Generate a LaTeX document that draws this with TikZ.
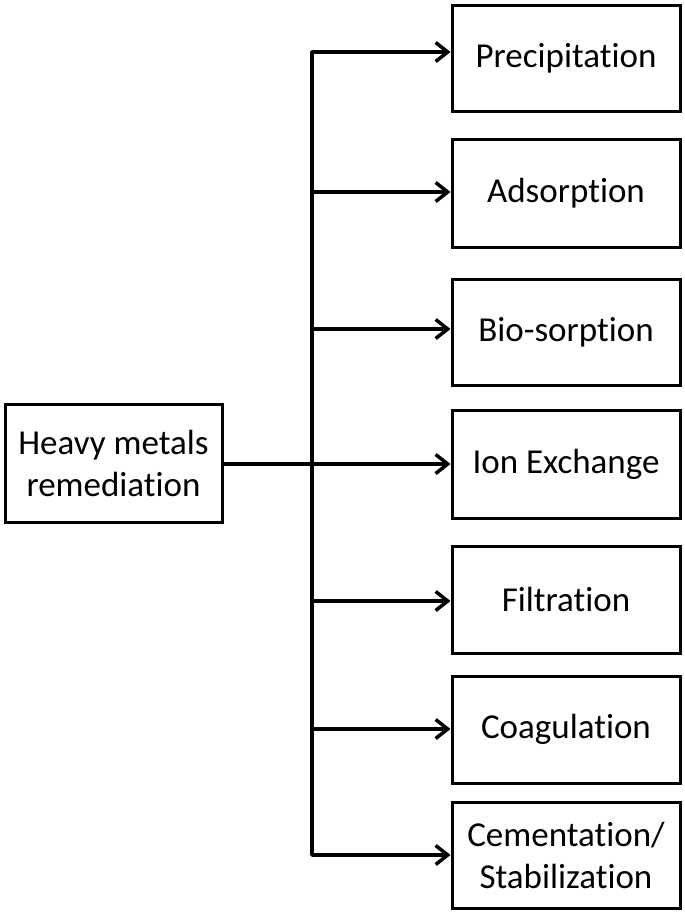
\documentclass[tikz,border=0pt]{standalone}
\usepackage{fontspec}
\setmainfont{Carlito}[RawFeature={-liga}]
\usetikzlibrary{arrows.meta}
\begin{document}
\begin{tikzpicture}[x=1pt,y=1pt,
  box/.style={draw, line width=3pt, rectangle, align=center, inner sep=0pt,
    font=\fontsize{35}{42}\selectfont},
  rbox/.style={box, minimum width=228pt},
  tip/.style={Straight Barb[length=12pt,width=19pt,line width=3.5pt]},
  conn/.style={line width=3.5pt, line join=round, -{Straight Barb[length=12pt,width=19pt,line width=3.5pt]}},
  conn2/.style={line width=3.5pt, line join=round, {Straight Barb[length=12pt,width=19pt,line width=3.5pt]}-{Straight Barb[length=12pt,width=19pt,line width=3.5pt]}}]
\useasboundingbox (0,0) rectangle (685,-913);
\node[box, minimum width=217pt, minimum height=118pt] (hm) at (113.5,-463) {Heavy metals\\remediation};
\node[rbox, minimum height=106pt] (pre) at (566,-58) {Precipitation};
\node[rbox, minimum height=108pt] (ads) at (566,-193) {Adsorption};
\node[rbox, minimum height=106pt] (bio) at (566,-332) {Bio-sorption};
\node[rbox, minimum height=108pt] (ion) at (566,-464) {Ion Exchange};
\node[rbox, minimum height=107pt] (fil) at (566,-599.5) {Filtration};
\node[rbox, minimum height=107pt] (coa) at (566,-729.5) {Coagulation};
\node[rbox, minimum height=106pt] (cem) at (566,-855) {Cementation/\\Stabilization};
\coordinate (t1) at (312,-52);
\coordinate (t2) at (312,-192);
\coordinate (t3) at (312,-329);
\coordinate (t5) at (312,-601);
\coordinate (t6) at (312,-729);
\coordinate (t7) at (312,-855);
\draw[conn2] (t7 -| cem.west) -- (t7) -- (t1) -- (t1 -| pre.west);
\draw[conn] (t2) -- (t2 -| ads.west);
\draw[conn] (t3) -- (t3 -| bio.west);
\draw[conn] (hm.east |- ion.west) -- (ion.west);
\draw[conn] (t5) -- (t5 -| fil.west);
\draw[conn] (t6) -- (t6 -| coa.west);
\end{tikzpicture}
\end{document}
